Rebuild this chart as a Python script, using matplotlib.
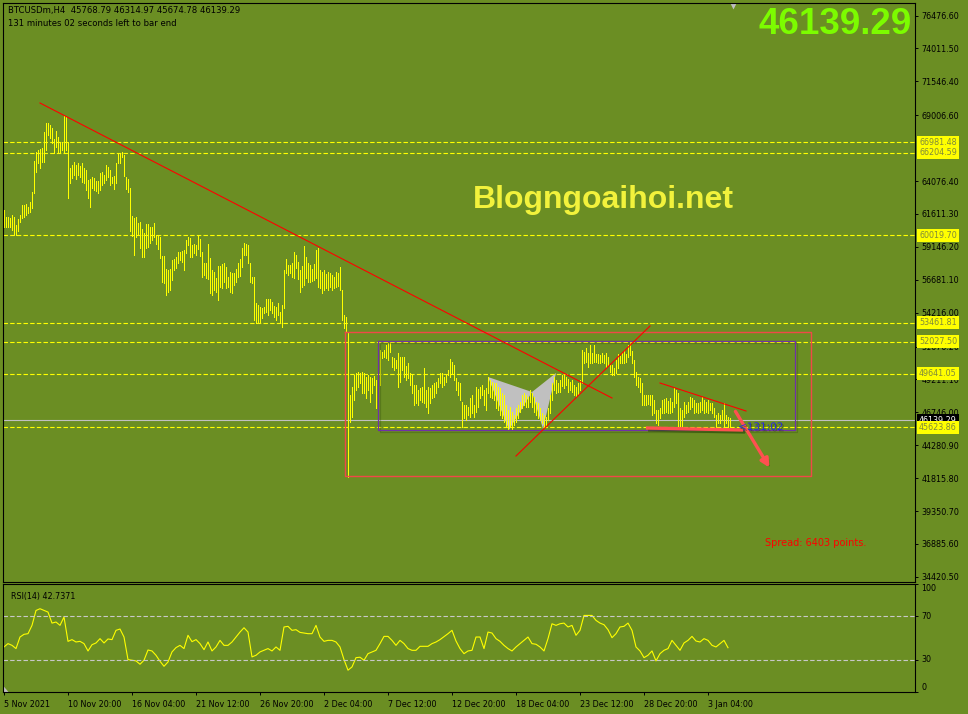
import matplotlib.pyplot as plt
import matplotlib.transforms as mtransforms
import matplotlib.patheffects as pe
from matplotlib.patches import Polygon, FancyArrowPatch
import numpy as np

# H4 bars of BTCUSDm, first bar 5 Nov 2021 12:00
highs = [
    61900, 61400, 61350, 61275, 61525, 61400, 60775, 61200, 61525, 62275,
    62275, 62350, 62150, 62525, 63250, 65600, 66275, 66400, 66450, 66525,
    67775, 68450, 68400, 68275, 68025, 67200, 67825, 67400, 66950, 67025,
    68950, 68900, 67025, 65025, 65275, 65525, 65275, 65400, 65200, 65450,
    65025, 64900, 64150, 64200, 64400, 64275, 64075, 64100, 64700, 64775,
    64525, 65275, 65100, 64900, 64350, 64450, 65400, 66150, 66200, 66275,
    66025, 64400, 64200, 63525, 61450, 61275, 61400, 60900, 61025, 60450,
    60150, 60850, 60850, 60650, 60650, 60900, 60025, 59950, 59900, 58450,
    58450, 57450, 57400, 57450, 58150, 58200, 58400, 58775, 58775, 58850,
    58900, 59658, 59858, 59783, 59283, 59358, 59283, 60033, 59708, 58783,
    57908, 57908, 59358, 58283, 57408, 57283, 56783, 57708, 57708, 57858,
    57908, 57658, 56858, 57283, 57158, 57208, 57458, 57908, 58208, 59083,
    59408, 59358, 59283, 57958, 56908, 56908, 54908, 54783, 54608, 54533,
    54608, 55208, 55208, 55208, 55033, 54708, 54608, 54958, 54283, 54783,
    57408, 58208, 57783, 57783, 57908, 58783, 58533, 58033, 57408, 57708,
    59208, 58358, 57908, 57783, 57458, 57858, 58908, 59033, 57408, 57283,
    57408, 57108, 57283, 57158, 57033, 56908, 57283, 57158, 57608, 55908,
    54033, 53908, 52658, 48033, 48658, 49533, 49658, 49783, 49658, 49783,
    49708, 49415, 49540, 49415, 49290, 49465, 49165, 49790, 51415, 51290,
    51415, 51790, 51965, 51915, 50915, 50790, 50665, 51165, 50865, 50915,
    50865, 50215, 50415, 49665, 49540, 48790, 48790, 48415, 48540, 48665,
    50040, 48415, 48665, 48540, 48790, 48915, 49040, 49290, 49665, 49715,
    49415, 49540, 49915, 50715, 50540, 50290, 49290, 49040, 48965, 47540,
    47290, 47290, 47165, 47790, 48040, 47290, 48665, 48465, 48665, 48790,
    48415, 48540, 49415, 49165, 49040, 48915, 48915, 48665, 48540, 48165,
    48040, 47290, 46915, 47165, 46790, 46540, 47040, 47290, 47540, 48040,
    48165, 48040, 47915, 48415, 48215, 47915, 47540, 47415, 47040, 46665,
    46540, 46415, 47040, 48040, 48915, 49415, 49165, 48915, 49165, 49540,
    49665, 49415, 49215, 49040, 49165, 48790, 48665, 48915, 49165, 51415,
    51290, 51540, 51215, 51790, 51215, 51790, 51115, 51115, 51040, 51165,
    51040, 51165, 50915, 50290, 50290, 50040, 50665, 51115, 50965, 51165,
    51415, 51115, 51790, 52040, 51365, 50665, 49790, 49415, 49290, 48915,
    48040, 48040, 48040, 48040, 48040, 47665, 46915, 46915, 47040, 47665,
    47715, 47790, 47615, 47790, 47540, 48540, 48415, 48165, 47040, 46915,
    47540, 47290, 47540, 47915, 47790, 47665, 47465, 47415, 47540, 47915,
    47665, 47540, 47665, 47415, 47465, 47040, 46540, 46665, 46540, 46915,
    47415, 46540, 46365, 46315,
]
lows = [
    60650, 60650, 60650, 60650, 60400, 60025, 60025, 60350, 61025, 61275,
    61400, 61525, 61650, 61775, 62025, 63200, 64775, 65400, 65025, 65525,
    65525, 66400, 67525, 67275, 66900, 66150, 66650, 66275, 66150, 66400,
    66150, 66400, 62775, 63950, 64275, 64525, 64200, 64525, 64400, 64025,
    63900, 63400, 62775, 62100, 63525, 63400, 63350, 63200, 63400, 63775,
    63900, 64150, 64400, 63775, 63900, 63450, 63900, 65400, 65400, 65900,
    64450, 63450, 63275, 60350, 59950, 58525, 59900, 60025, 59025, 58350,
    58400, 59025, 59150, 59400, 59650, 59900, 59350, 58950, 58275, 56525,
    56400, 55525, 55775, 55900, 56650, 57400, 57525, 57900, 58150, 58025,
    57400, 58658, 59283, 58408, 58408, 58658, 58533, 58958, 58458, 56908,
    57033, 56783, 56708, 55658, 55533, 55908, 55783, 55158, 56158, 56033,
    56533, 56033, 56158, 55783, 55708, 56283, 56533, 56908, 56958, 57658,
    58533, 58533, 57958, 56533, 56408, 53658, 53408, 53533, 53408, 53783,
    54158, 54283, 54033, 54408, 54158, 53908, 53658, 54033, 53533, 53158,
    54533, 57158, 57033, 57158, 56908, 56783, 57533, 56708, 55783, 56158,
    56283, 56783, 56533, 56533, 56608, 56658, 56783, 56158, 56033, 55708,
    55908, 56033, 55908, 56158, 55908, 56033, 56158, 56208, 55908, 53658,
    53033, 52783, 41908, 46033, 46408, 47658, 48408, 48658, 48908, 48158,
    48158, 47790, 48415, 47540, 48165, 48790, 47040, 48415, 48790, 50790,
    50915, 50790, 50665, 51290, 50165, 49915, 50040, 48665, 49040, 49915,
    49415, 49165, 49290, 48790, 48165, 47290, 47415, 47290, 47665, 47540,
    47415, 47165, 46665, 47415, 47790, 47915, 48165, 48665, 48915, 48665,
    48790, 49040, 49540, 49415, 49665, 49165, 48415, 48040, 47665, 45665,
    46290, 46165, 46540, 46415, 46665, 46415, 46790, 47165, 47790, 48040,
    47290, 46915, 48165, 47915, 47790, 47665, 47040, 46915, 46540, 46290,
    46040, 45665, 45415, 45665, 45465, 45790, 46040, 46290, 46790, 47040,
    47290, 47165, 47165, 47540, 47165, 46790, 46540, 46290, 46165, 45915,
    45540, 45665, 46165, 46665, 47665, 48415, 48165, 48290, 48290, 48715,
    48540, 48790, 48290, 48415, 48290, 48040, 47965, 48115, 48415, 48915,
    50415, 50540, 50165, 50465, 50415, 50540, 50540, 50415, 50465, 50540,
    50415, 50165, 50290, 49790, 49540, 49540, 49665, 50040, 50415, 50415,
    50415, 50540, 50915, 51040, 50415, 49415, 48790, 48665, 48290, 47290,
    47290, 47290, 47365, 47290, 46540, 46665, 45915, 45790, 46290, 46665,
    46665, 46790, 46665, 46715, 46790, 47165, 47415, 45615, 45665, 45615,
    46415, 46665, 46790, 46965, 47165, 46715, 46790, 46665, 46790, 46915,
    46665, 46790, 46715, 46915, 46665, 46365, 45615, 45915, 45915, 46165,
    45615, 45915, 45615, 45675,
]
# RSI(14), every second bar
rsi = [
    41.7, 44.8, 43.2, 40.2, 50.9, 53.4, 54.0, 61.7, 75.5, 77.1,
    75.5, 74.0, 63.8, 64.8, 61.7, 69.4, 46.9, 48.5, 46.3, 46.9,
    44.8, 38.0, 43.8, 45.4, 49.4, 45.4, 49.1, 48.5, 57.1, 58.3,
    50.9, 30.0, 29.4, 28.8, 25.7, 29.4, 38.9, 38.0, 34.0, 28.5,
    23.8, 27.8, 37.1, 41.1, 43.2, 40.2, 52.5, 46.6, 48.5, 44.8,
    39.2, 46.3, 38.0, 41.7, 47.8, 43.2, 43.2, 46.3, 50.9, 55.5,
    59.5, 55.5, 32.5, 34.0, 37.1, 38.6, 40.2, 38.0, 41.7, 38.6,
    60.2, 60.8, 57.1, 57.7, 55.2, 54.6, 54.0, 54.0, 61.7, 50.9,
    46.9, 47.8, 47.8, 46.3, 41.7, 30.0, 20.2, 23.2, 31.8, 32.2,
    29.4, 35.5, 37.1, 38.6, 44.8, 51.5, 51.5, 47.8, 43.2, 47.8,
    44.8, 40.2, 38.6, 38.6, 42.3, 42.3, 42.3, 44.8, 46.3, 48.5,
    51.2, 54.0, 57.1, 47.2, 40.2, 35.5, 38.0, 38.6, 50.9, 50.9,
    40.2, 55.5, 54.6, 49.4, 46.9, 43.2, 40.2, 38.0, 41.7, 44.8,
    47.8, 50.9, 44.8, 44.2, 41.7, 38.0, 49.4, 63.2, 61.7, 63.2,
    63.8, 60.2, 61.7, 52.5, 57.1, 70.9, 70.9, 70.9, 66.3, 63.8,
    62.3, 57.7, 50.3, 54.0, 60.2, 60.8, 63.8, 57.1, 41.7, 38.0,
    31.8, 34.0, 38.0, 28.8, 35.5, 38.6, 40.2, 47.8, 43.2, 38.6,
    45.4, 47.8, 51.5, 47.2, 46.3, 49.4, 47.8, 43.2, 41.7, 44.8,
    47.8, 41.0,
]
# 66541.50 sits fully under the 66981.48 / 66204.59 labels, so it is left out
price_ticks = [76476.60, 74011.50, 71546.40, 69006.60, 64076.40,
               61611.30, 59146.20, 56681.10, 54216.00, 51676.20, 49211.10,
               46746.00, 44280.90, 41815.80, 39350.70, 36885.60, 34420.50]
levels = [66981.48, 66204.59, 60019.70, 53461.81, 52027.50, 49641.05, 45623.86]
time_labels = ["5 Nov 2021", "10 Nov 20:00", "16 Nov 04:00", "21 Nov 12:00",
               "26 Nov 20:00", "2 Dec 04:00", "7 Dec 12:00", "12 Dec 20:00",
               "18 Dec 04:00", "23 Dec 12:00", "28 Dec 20:00", "3 Jan 04:00"]
bid = 46139.29
ohlc = (45768.79, 46314.97, 45674.78, 46139.29)
rsi_last = 42.7371
spread = 6403

# drawn objects, (bar index, price)
trend_main = [(18, 69926), (304, 47819)]
trend_up = [(256, 43472), (323, 53215)]
trend_short = [(328, 48943), (371, 46844)]
support = [(321, 45571), (369.5, 45421)]
arrow_pts = [(365, 46994), (383.5, 42423)]
box_range = [(187, 52091), (395.5, 45421)]
box_outer = [(170.5, 52766), (403.5, 41974)]
pattern_xab = [(242, 49393), (252.5, 45421), (264, 48268)]
pattern_bcd = [(264, 48268), (269.5, 45496), (276, 49693)]

BG = "#6B8E23"
YEL = "#FFFF00"
FS = 5.8
W, H = 968, 714


def box(l, t, r, b):
    return [l / W, 1 - b / H, (r - l) / W, (b - t) / H]


def corners(pts):
    (xa, ya), (xb, yb) = pts
    return [xa, xb, xb, xa, xa], [ya, ya, yb, yb, ya]


fig = plt.figure(figsize=(W / 100, H / 100), dpi=100, facecolor=BG)
plt.rcParams["font.family"] = ["DejaVu Sans"]
ax = fig.add_axes(box(3, 3, 915, 582), facecolor=BG)
ax_rsi = fig.add_axes(box(3, 584, 915, 692), facecolor=BG)

x = np.arange(len(highs))
ax.set_xlim(-0.5, 455.5)
ax.set_ylim(34030, 77420)

for poly in (pattern_xab, pattern_bcd):
    ax.add_patch(Polygon(poly, closed=True, fc="#C0C0C0", ec="none", zorder=1))

for lv in levels:
    ax.axhline(lv, color=YEL, lw=0.8, ls=(0, (4, 2)), zorder=1.5)
ax.axhline(bid, color="#C0C0C0", lw=0.8, zorder=1.5)

ax.vlines(x, lows, highs, color=YEL, lw=0.6, antialiased=False, zorder=2)

shadow = [pe.SimpleLineShadow(offset=(1.5, -1.5), shadow_color="#2E4A0A", alpha=0.6), pe.Normal()]
light_shadow = [pe.SimpleLineShadow(offset=(1.5, -1.5), shadow_color="#2E4A0A", alpha=0.3), pe.Normal()]
ax.plot(*corners(box_outer), color="#F04848", lw=1.0, zorder=2.5)
ax.plot(*corners(box_range), color="#7030A8", lw=0.9, zorder=2.5, path_effects=light_shadow)

for seg in (trend_main, trend_up, trend_short):
    ax.plot(*zip(*seg), color="#FF0000", lw=0.8, zorder=3)

ax.plot(*zip(*support), color="#FF5050", lw=2.4, zorder=3.5, solid_capstyle="butt", path_effects=shadow)
ax.add_patch(FancyArrowPatch(arrow_pts[0], arrow_pts[1], arrowstyle="-|>,head_length=5,head_width=2.5",
                             color="#FF5050", lw=2.4, zorder=3.5,
                             path_effects=[pe.SimplePatchShadow(offset=(1.5, -1.5), shadow_rgbFace="#2E4A0A", alpha=0.6), pe.Normal()]))

ax.text(367, 45645, "<131:02", color="#2828E0", fontsize=7.5, va="center", ha="left", zorder=4,
        path_effects=[pe.withSimplePatchShadow(offset=(1, -1), shadow_rgbFace="#2E4A0A", alpha=0.5)])
ax.text(380.5, 36953, f"Spread: {spread} points.", color="#FF0000", fontsize=7, va="center", ha="left")
ax.text(299.5, 62657, "Blogngoaihoi.net", color="#F2F23C", fontsize=23, fontweight="bold",
        family="Liberation Sans", ha="center", va="center")

# axes styling
for a in (ax, ax_rsi):
    for s in a.spines.values():
        s.set_color("black")
        s.set_linewidth(0.8)
    a.yaxis.tick_right()
    a.tick_params(axis="y", length=2.5, width=0.7, pad=2, labelsize=FS, colors="black")

ax.set_xticks([])
ax.set_yticks(price_ticks)
ax.set_yticklabels([f"{v:.2f}" for v in price_ticks])

ytr = mtransforms.blended_transform_factory(ax.transAxes, ax.transData)
ax.text(1.0045, bid, f"{bid:.2f}", transform=ytr, fontsize=FS, color="white", va="center", ha="left",
        bbox=dict(boxstyle="square,pad=0.25", fc="black", ec="none"), zorder=5)
for lv in levels:
    ax.text(1.0045, lv, f"{lv:.2f}", transform=ytr, fontsize=FS, color="#7F8A3A", va="center", ha="left",
            bbox=dict(boxstyle="square,pad=0.25", fc=YEL, ec="none"), zorder=6)

ax.plot([364.5], [0.994], marker="v", ms=5, color="#C0C0C0", mec="none",
        transform=mtransforms.blended_transform_factory(ax.transData, ax.transAxes), clip_on=False)

# RSI panel
ax_rsi.set_xlim(-0.5, 455.5)
ax_rsi.set_ylim(0, 100)
ax_rsi.plot(np.arange(0, 2 * len(rsi), 2), rsi, color=YEL, lw=0.8)
for lv in (70, 30):
    ax_rsi.axhline(lv, color="#C8C8C8", lw=0.8, ls=(0, (4, 2)))
ax_rsi.set_yticks([100, 70, 30, 0])
ax_rsi.set_yticklabels(["100", "70", "30", "0"])
for lbl, va in zip(ax_rsi.get_yticklabels(), ["top", "center", "center", "bottom"]):
    lbl.set_va(va)
ax_rsi.set_xticks(np.arange(len(time_labels)) * 32)
ax_rsi.set_xticklabels(time_labels, ha="left")
ax_rsi.tick_params(axis="x", length=2.5, width=0.7, pad=3, labelsize=FS, colors="black")
ax_rsi.add_patch(Polygon([(0, 0), (0.006, 0), (0, 0.06)], closed=True, fc="#C0C0C0", ec="none",
                         transform=ax_rsi.transAxes))
ax_rsi.text(8 / 912, 0.88, f"RSI(14) {rsi_last}", transform=ax_rsi.transAxes, fontsize=FS, va="center")

fig.text(8 / W, 1 - 10 / H, "BTCUSDm,H4  " + " ".join(f"{v:.2f}" for v in ohlc),
         fontsize=6.1, va="center")
fig.text(8 / W, 1 - 23 / H, "131 minutes 02 seconds left to bar end", fontsize=6.1, va="center")
fig.text(912 / W, 1 - 25 / H, f"{bid:.2f}", fontsize=26.5, fontweight="bold", color="#7CFC00",
         family="Liberation Sans", ha="right", va="center")

fig.savefig("out.png", dpi=100, facecolor=BG)
